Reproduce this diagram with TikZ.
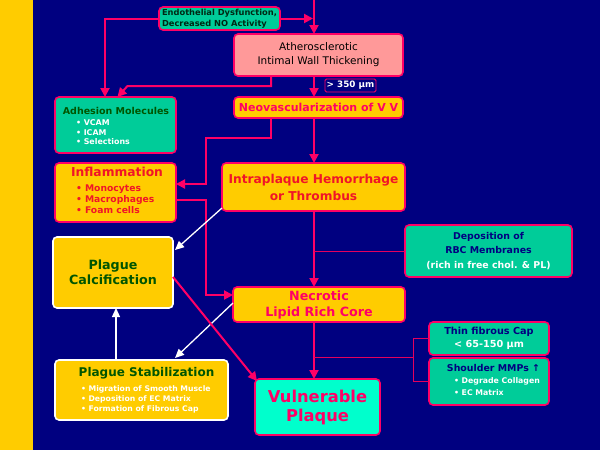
\documentclass[tikz,border=0pt]{standalone}
\usepackage{fontspec}
\setmainfont{DejaVu Sans}
\usetikzlibrary{arrows.meta,calc}
\definecolor{navy}{RGB}{0,0,128}
\definecolor{gold}{RGB}{255,204,0}
\definecolor{pinkline}{RGB}{255,0,102}
\definecolor{pinktext}{RGB}{255,0,102}
\definecolor{redtext}{RGB}{240,20,40}
\definecolor{tealf}{RGB}{0,204,153}
\definecolor{aquaf}{RGB}{0,255,204}
\definecolor{salmon}{RGB}{255,153,153}
\definecolor{dgreen}{RGB}{0,85,0}
\definecolor{endotext}{RGB}{0,40,20}
\newcommand\fsz[2]{\fontsize{#1pt}{#2pt}\selectfont}
\begin{document}
\begin{tikzpicture}[x=1pt,y=-1pt,
  box/.style={draw=pinkline, line width=1.6pt, rounded corners=4pt, inner sep=0pt, outer sep=0pt, align=center},
  wbox/.style={box, draw=white},
  lbl/.style={inner sep=0pt, outer sep=0pt},
  conn/.style={draw=pinkline, line width=2pt, -{Triangle[length=9pt,width=9pt]}},
  wconn/.style={draw=white, line width=1.3pt, -{Triangle[length=9pt,width=8pt]}},
  thinl/.style={draw=pinkline!90!black, line width=0.9pt}]
\useasboundingbox (0,0) rectangle (600,450);
\fill[navy] (0,0) rectangle (600,450);
\fill[gold] (0,0) rectangle (33,450);
\coordinate (spine) at (314,0);

\node[box, fill=tealf, minimum width=121pt, minimum height=23pt, align=left, text=endotext, font=\fsz{8.3}{10.5}\bfseries] (endo) at (219.5,18.5) {Endothelial Dysfunction,\\Decreased NO Activity};
\node[box, fill=salmon, minimum width=169pt, minimum height=42pt, text=black, font=\fsz{10.5}{14}] (athero) at (318.5,55) {Atherosclerotic\\Intimal Wall Thickening};
\node[draw=pinkline, line width=0.8pt, fill=navy, rounded corners=1.5pt, minimum width=51pt, minimum height=13pt, inner sep=0pt, text=white, font=\fsz{8.8}{10}\bfseries] (um) at (350.5,85.5) {> 350 μm};
\node[box, fill=gold, minimum width=169pt, minimum height=21pt, text=pinktext, font=\fsz{11}{13}\bfseries] (neo) at (318.5,107.5) {Neovascularization of V V};

\node[box, fill=tealf, minimum width=121pt, minimum height=56pt] (adh) at (115.5,125) {};
\node[lbl, text=dgreen, font=\fsz{9.5}{11}\bfseries] (adht) at (116,111) {Adhesion Molecules};
\node[lbl, anchor=west, align=left, text=white, font=\fsz{7.9}{9.6}\bfseries] (adhb) at (76,132.5) {• VCAM\\• ICAM\\• Selections};

\node[box, fill=gold, minimum width=121pt, minimum height=59pt] (infl) at (115.5,192.5) {};
\node[lbl, text=redtext, font=\fsz{12.3}{14}\bfseries] (inflt) at (117,172) {Inflammation};
\node[lbl, anchor=west, align=left, text=redtext, font=\fsz{9.2}{11.2}\bfseries] (inflb) at (76,199) {• Monocytes\\• Macrophages\\• Foam cells};

\node[box, fill=gold, minimum width=183pt, minimum height=48pt, text=redtext, font=\fsz{12.2}{17}\bfseries] (intra) at (313.5,187) {Intraplaque Hemorrhage\\or Thrombus};

\node[box, fill=tealf, minimum width=167pt, minimum height=52pt, text=white, font=\fsz{9.4}{14.5}\bfseries] (rbc) at (488.5,251) {{\color{navy}Deposition of}\\{\color{navy}RBC Membranes}\\(rich in free chol. \& PL)};

\node[wbox, fill=gold, minimum width=120pt, minimum height=71pt, text=dgreen, font=\fsz{12.7}{14.5}\bfseries] (calc) at (113,272.5) {Plague\\Calcification};

\node[box, fill=gold, minimum width=172pt, minimum height=35pt, text=pinktext, font=\fsz{12.7}{16}\bfseries] (necr) at (319,304.5) {Necrotic\\Lipid Rich Core};

\node[box, fill=tealf, minimum width=120pt, minimum height=33pt, text=white, font=\fsz{9.7}{12.5}\bfseries] (thin) at (489,338.5) {{\color{navy}Thin fibrous Cap}\\< 65-150 μm};

\node[box, fill=tealf, minimum width=120pt, minimum height=47pt] (shoulder) at (489,381.5) {};
\node[lbl, text=navy, font=\fsz{9.4}{11}\bfseries] (shouldert) at (493.5,368) {Shoulder MMPs ↑};
\node[lbl, anchor=west, align=left, text=white, font=\fsz{7.8}{12}\bfseries] (shoulderb) at (454,387) {• Degrade Collagen\\• EC Matrix};

\node[wbox, fill=gold, minimum width=173pt, minimum height=60pt] (stab) at (141.5,390) {};
\node[lbl, text=dgreen, font=\fsz{12}{13}\bfseries] (stabt) at (146.5,373) {Plague Stabilization};
\node[lbl, anchor=west, align=left, text=white, font=\fsz{7.7}{10}\bfseries] (stabb) at (81,399) {• Migration of Smooth Muscle\\• Deposition of EC Matrix\\• Formation of Fibrous Cap};

\node[box, fill=aquaf, minimum width=125pt, minimum height=56pt, text=pinktext, font=\fsz{16.3}{19}\bfseries] (vuln) at (317.5,407) {Vulnerable\\Plaque};

% connectors
\draw[conn] (spine) -- (spine |- athero.north);
\draw[conn] (endo.east) -- ($(endo.east -| spine)+(-1,0)$);
\draw[conn] (endo.west) -| ($(adh.north)+(-10.5,0)$);
\draw[conn] ($(athero.south west)+(37,0)$) |- ($(adh.north)+(12,-11)$) -- ($(adh.north)+(2,0)$);
\draw[conn] (spine |- athero.south) -- (spine |- neo.north);
\draw[conn] (spine |- neo.south) -- (spine |- intra.north);
\draw[conn] ($(neo.south west)+(37,0)$) -- ++(0,20) -| ($(infl.east)+(29.5,-8.5)$) -- ($(infl.east)+(0,-8.5)$);
\draw[conn] ($(infl.east)+(0,7.5)$) -- ++(29.5,0) |- ($(necr.west)+(0,-9.5)$);
\draw[conn] (spine |- intra.south) -- (spine |- necr.north);
\draw[thinl] (spine |- rbc.west) -- (rbc.west);
\draw[conn] (spine |- necr.south) -- (spine |- vuln.north);
\coordinate (br) at ($(thin.west)+(-16,18.5)$);
\draw[thinl] (spine |- br) -- (br);
\draw[thinl] (thin.west) -- ++(-16,0) |- (shoulder.west);
\draw[wconn] ($(intra.south west)+(0,-3)$) -- ($(calc.north east)+(2,13)$);
\draw[wconn] ($(necr.west)+(0,-1.5)$) -- ($(stab.north)+(33.5,-2)$);
\draw[wconn] ($(stab.north)+(-25.5,0)$) -- ($(calc.south)+(3,0)$);
\draw[conn] ($(calc.east)+(0,4.5)$) -- ($(vuln.north west)+(2,2)$);
\end{tikzpicture}
\end{document}
